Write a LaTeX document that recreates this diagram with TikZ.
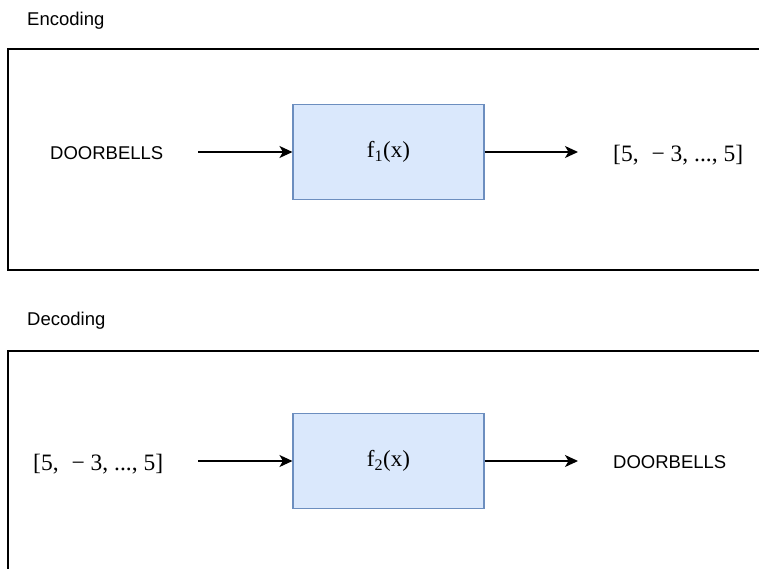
\documentclass[tikz,border=0pt]{standalone}
\usepackage{fontspec}
\setmainfont{Liberation Serif}
\setsansfont{Liberation Sans}
\usetikzlibrary{arrows.meta}

\definecolor{boxfill}{HTML}{DAE8FC}
\definecolor{boxline}{HTML}{6C8EBF}
\newcommand{\codevec}{[5,\hspace{0.55em}−\hspace{0.25em}3, ..., 5]}

\tikzset{
  fnbox/.style={draw=boxline, fill=boxfill, line width=1.1pt,
    minimum width=191pt, minimum height=95pt, font=\fontsize{23}{26}\selectfont},
  word/.style={font=\sffamily\fontsize{18.5}{21}\selectfont, inner sep=0pt, anchor=base west},
  vec/.style={font=\fontsize{23.5}{26}\selectfont, inner sep=0pt, anchor=base west},
  flow/.style={-{Stealth[length=13pt,width=12pt,inset=3.5pt]}, line width=1.4pt},
  frame/.style={draw, line width=1.4pt},
}

\begin{document}
\begin{tikzpicture}[x=1pt,y=-1pt]
    \useasboundingbox (0,0) rectangle (759,568);
    % encoding
    \node[word] (enclabel) at (27,25) {Encoding};
    \draw[frame] (8,49) rectangle (775,270);
    \node[fnbox] (f1) at (388.5,152) {f\textsubscript{1}(x)};
    \node[word] (plain1) at (50,159) {DOORBELLS};
    \node[vec] (code1) at (613,161) {\codevec};
    \coordinate (s1) at (198,152);
    \coordinate (t1) at (578,152);
    \draw[flow] (s1) -- (f1.west);
    \draw[flow] (f1.east) -- (t1);
    % decoding
    \node[word] (declabel) at (27,325.5) {Decoding};
    \draw[frame] (8,351) rectangle (775,590);
    \node[fnbox] (f2) at (388.5,461) {f\textsubscript{2}(x)};
    \node[vec] (code2) at (33,470) {\codevec};
    \node[word] (plain2) at (613,468) {DOORBELLS};
    \coordinate (s2) at (198,461);
    \coordinate (t2) at (578,461);
    \draw[flow] (s2) -- (f2.west);
    \draw[flow] (f2.east) -- (t2);
\end{tikzpicture}
\end{document}
